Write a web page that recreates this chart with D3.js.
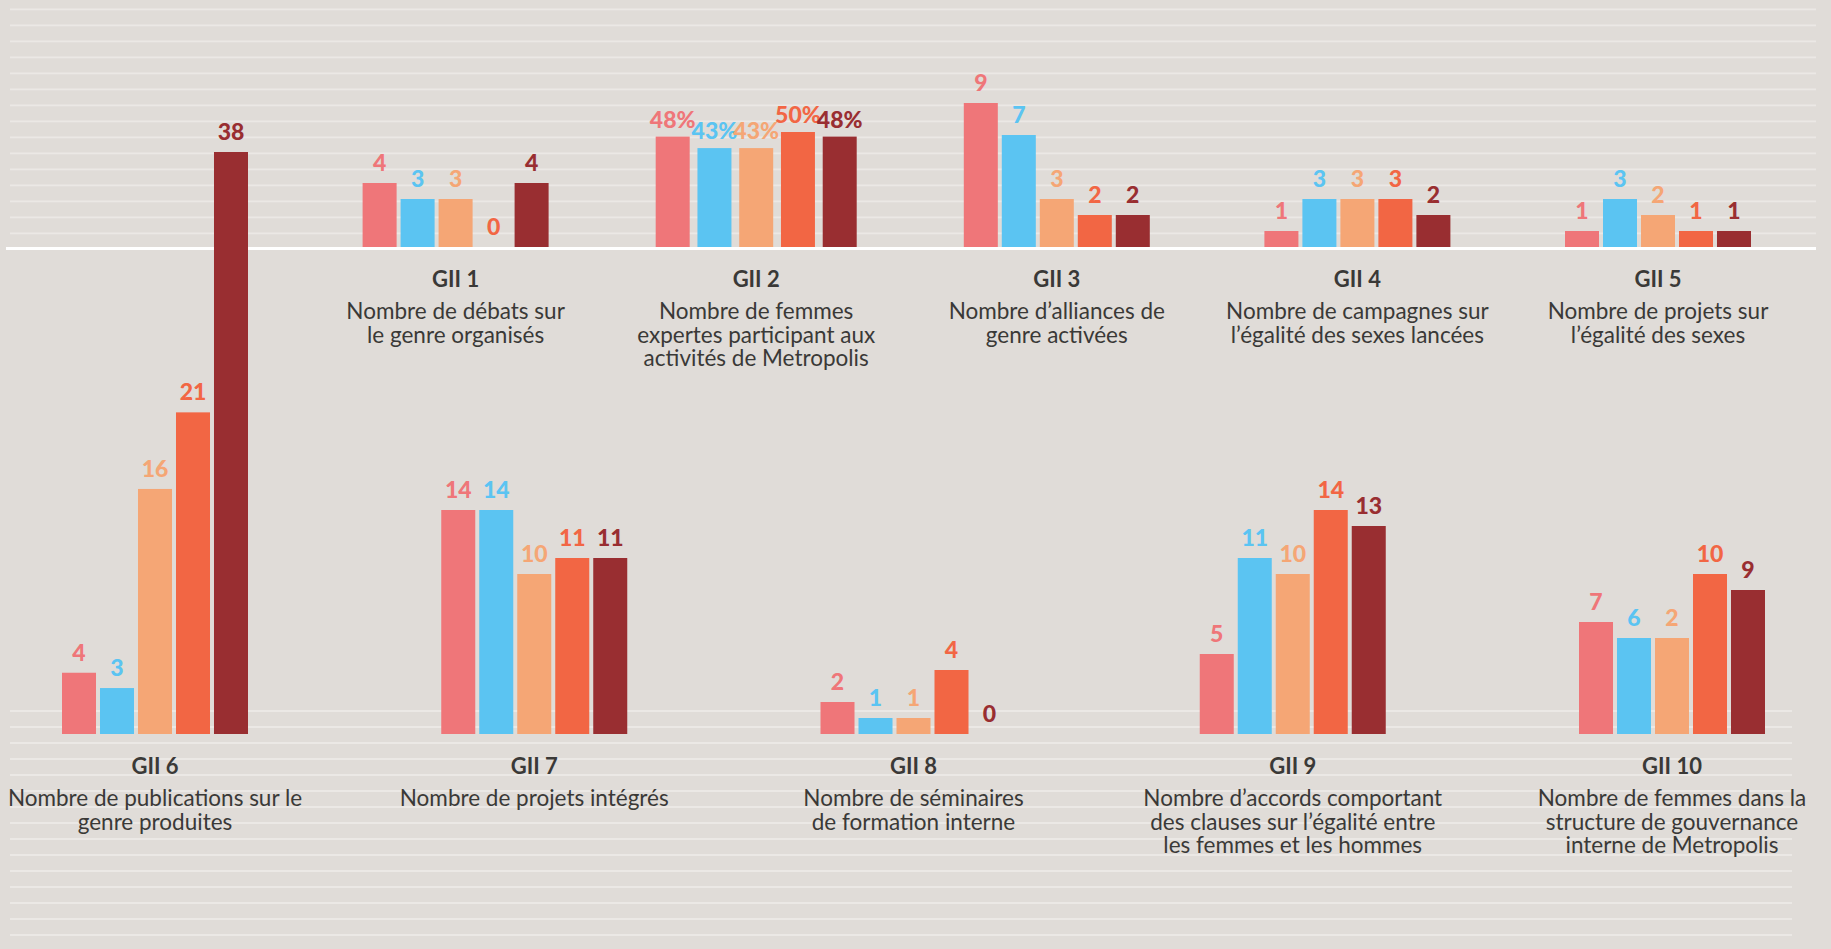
<!DOCTYPE html>
<html>
<head>
<meta charset="utf-8">
<script src="https://cdn.jsdelivr.net/npm/d3@7"></script>
<style>
  body { margin: 0; background: #e0dcd8; }
  svg { display: block; }
  text { font-family: Lato, "Open Sans", sans-serif; }
</style>
</head>
<body>
<svg width="1831" height="949"></svg>
<script>
// indicators, in reading order (top row GII 1-5, bottom row GII 6-10)
var codes = ["GII 1", "GII 2", "GII 3", "GII 4", "GII 5",
             "GII 6", "GII 7", "GII 8", "GII 9", "GII 10"];

var descriptions = [
  ["Nombre de débats sur", "le genre organisés"],
  ["Nombre de femmes", "expertes participant aux", "activités de Metropolis"],
  ["Nombre d\u2019alliances de", "genre activées"],
  ["Nombre de campagnes sur", "l\u2019égalité des sexes lancées"],
  ["Nombre de projets sur", "l\u2019égalité des sexes"],
  ["Nombre de publications sur le", "genre produites"],
  ["Nombre de projets intégrés"],
  ["Nombre de séminaires", "de formation interne"],
  ["Nombre d\u2019accords comportant", "des clauses sur l\u2019égalité entre", "les femmes et les hommes"],
  ["Nombre de femmes dans la", "structure de gouvernance", "interne de Metropolis"]
];

// five series per indicator, bar heights as drawn
var values = [
  [4, 3, 3, 0, 4],
  [48, 43, 43, 50, 48],
  [9, 7, 3, 2, 2],
  [1, 3, 3, 3, 2],
  [1, 3, 2, 1, 1],
  [4, 3, 16, 21, 38],
  [14, 14, 10, 11, 11],
  [2, 1, 1, 4, 0],
  [5, 11, 10, 14, 13],
  [7, 6, 6, 10, 9]
];

// value labels as printed on the chart
var valueLabels = [
  ["4", "3", "3", "0", "4"],
  ["48%", "43%", "43%", "50%", "48%"],
  ["9", "7", "3", "2", "2"],
  ["1", "3", "3", "3", "2"],
  ["1", "3", "2", "1", "1"],
  ["4", "3", "16", "21", "38"],
  ["14", "14", "10", "11", "11"],
  ["2", "1", "1", "4", "0"],
  ["5", "11", "10", "14", "13"],
  ["7", "6", "2", "10", "9"]
];

var units = ["n", "%", "n", "n", "n", "n", "n", "n", "n", "n"];

var series = [0, 1, 2, 3, 4];
var colors = ["#ef7679", "#5bc4f2", "#f5a675", "#f26644", "#992e31"];

var svg = d3.select("svg"),
    width = +svg.attr("width"),
    height = +svg.attr("height");

var topBase = 247, bottomBase = 734;
var textColor = "#3a3937";

var topCodes = codes.slice(0, 5), bottomCodes = codes.slice(5);

// GII 6 column is shared by both rows
var xTop = d3.scalePoint().domain(["GII 6"].concat(topCodes)).range([155, 1658]),
    xBottom = d3.scalePoint().domain(bottomCodes).range([155, 1672]);

// background stripes
var stripeColor = "#ebe8e5";
svg.append("g").selectAll("line")
    .data(d3.range(15).map(function(k) { return 9.3 + 16 * k; }))
  .enter().append("line")
    .attr("x1", 10).attr("x2", 1816)
    .attr("y1", function(d) { return d; }).attr("y2", function(d) { return d; })
    .style("stroke", stripeColor).style("stroke-width", 1.8);

svg.append("g").selectAll("line")
    .data(d3.range(15).map(function(k) { return 711 + 16 * k; }))
  .enter().append("line")
    .attr("x1", 10).attr("x2", 1792)
    .attr("y1", function(d) { return d; }).attr("y2", function(d) { return d; })
    .style("stroke", stripeColor).style("stroke-width", 1.8);

// white baseline of the top row
svg.append("line")
    .attr("x1", 6).attr("x2", 1816)
    .attr("y1", topBase + 1.5).attr("y2", topBase + 1.5)
    .style("stroke", "#fff").style("stroke-width", 3);

var groups = codes.map(function(c, i) {
  return {
    code: c,
    desc: descriptions[i],
    values: values[i],
    labels: valueLabels[i],
    unit: units[i],
    top: i < 5
  };
});

groups.forEach(function(d) {
  var cx = d.top ? xTop(d.code) : xBottom(d.code),
      base = d.top ? topBase : bottomBase,
      pct = d.unit === "%",
      half = pct ? 100.5 : 93;

  var x = d3.scaleBand()
      .domain(series)
      .range([cx - half, cx + half])
      .paddingInner(pct ? 0.186 : 0.105);

  // 16px per unit, shrunk if the tallest bar would not fit
  var maxH = 582,
      unitPx = pct ? 2.3 : Math.min(16, maxH / d3.max(d.values));
  var y = d3.scaleLinear().domain([0, 1]).range([0, unitPx]);

  var g = svg.append("g").attr("class", "group");

  g.selectAll("rect")
      .data(series)
    .enter().append("rect")
      .attr("x", function(s) { return x(s); })
      .attr("width", x.bandwidth())
      .attr("y", function(s) { return base - y(d.values[s]); })
      .attr("height", function(s) { return y(d.values[s]); })
      .style("fill", function(s) { return colors[s]; });

  g.selectAll(".val")
      .data(series)
    .enter().append("text")
      .attr("class", "val")
      .attr("x", function(s) { return x(s) + x.bandwidth() / 2; })
      .attr("y", function(s) { return base - y(d.values[s]) - (pct ? 9 : 12); })
      .attr("text-anchor", "middle")
      .style("font-size", "23px")
      .style("font-weight", 900)
      .style("fill", function(s) { return colors[s]; })
      .text(function(s) { return d.labels[s]; });

  g.append("text")
      .attr("x", cx)
      .attr("y", base + 40)
      .attr("text-anchor", "middle")
      .style("font-size", "22px")
      .style("font-weight", 700)
      .style("fill", textColor)
      .text(d.code);

  g.selectAll(".desc")
      .data(d.desc)
    .enter().append("text")
      .attr("class", "desc")
      .attr("x", cx)
      .attr("y", function(t, k) { return base + 72 + 23.5 * k; })
      .attr("text-anchor", "middle")
      .style("font-size", "22.5px")
      .style("fill", textColor)
      .text(function(t) { return t; });
});
</script>
</body>
</html>
